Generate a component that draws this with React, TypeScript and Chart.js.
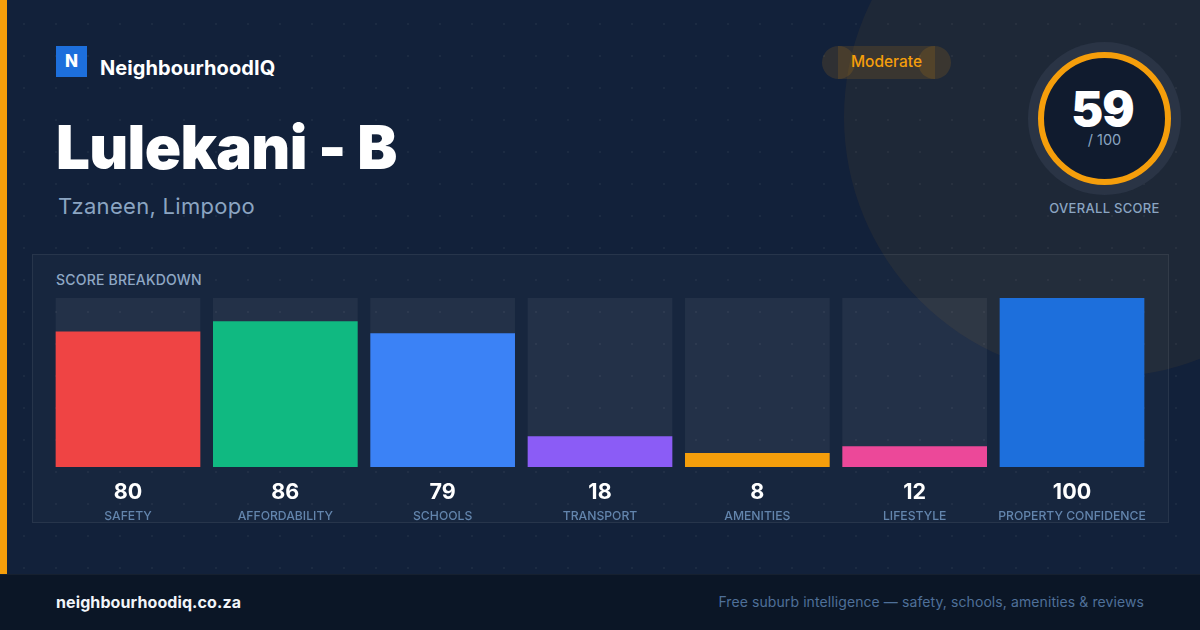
import { useEffect, useRef } from "react";
import { Chart, registerables } from "chart.js";

Chart.register(...registerables);

const categories = ["SAFETY", "AFFORDABILITY", "SCHOOLS", "TRANSPORT", "AMENITIES", "LIFESTYLE", "PROPERTY CONFIDENCE"];
const scores = [80, 86, 79, 18, 8, 12, 100];
const trackValues = [100, 100, 100, 100, 100, 100, 100];
const barColors = ["#ef4444", "#10b981", "#3b82f6", "#8b5cf6", "#f59e0b", "#ec4899", "#1d6fdc"];

const FONT = "Inter, sans-serif";

function text(
  left: number,
  top: number,
  size: number,
  weight: number,
  color: string,
  extra: React.CSSProperties = {},
): React.CSSProperties {
  return {
    position: "absolute",
    left,
    top,
    fontSize: size,
    fontWeight: weight,
    color,
    lineHeight: 1,
    whiteSpace: "nowrap",
    ...extra,
  };
}

function box(left: number, top: number, width: number, height: number, extra: React.CSSProperties): React.CSSProperties {
  return { position: "absolute", left, top, width, height, ...extra };
}

function BreakdownChart() {
  const canvasRef = useRef<HTMLCanvasElement>(null);

  useEffect(() => {
    if (!canvasRef.current) return;
    const chart = new Chart(canvasRef.current, {
      type: "bar",
      data: {
        labels: categories,
        datasets: [
          {
            label: "Score",
            data: scores,
            backgroundColor: barColors,
            barThickness: 144,
            grouped: false,
            order: 1,
          },
          {
            label: "Track",
            data: trackValues,
            backgroundColor: "rgba(255,255,255,0.055)",
            barThickness: 144,
            grouped: false,
            order: 2,
          },
        ],
      },
      options: {
        animation: false,
        responsive: false,
        layout: { padding: { left: 9.33, right: 9.33, top: 0, bottom: 3 } },
        plugins: { legend: { display: false }, tooltip: { enabled: false } },
        scales: {
          y: { display: false, min: 0, max: 100 },
          x: {
            weight: 1,
            grid: { display: false, drawTicks: false },
            border: { display: false },
            // tick padding counts twice in the axis height, names sit right under the values
            afterFit: (scale) => {
              scale.height = 38;
            },
            ticks: {
              autoSkip: false,
              maxRotation: 0,
              padding: 13,
              color: "#ffffff",
              font: { family: FONT, size: 21.5, weight: "bold" },
              callback: (_v, i) => String(scores[i]),
            },
          },
          names: {
            type: "category",
            position: "bottom",
            weight: 2,
            labels: categories,
            grid: { display: false, drawTicks: false },
            border: { display: false },
            ticks: {
              autoSkip: false,
              maxRotation: 0,
              padding: 3.7,
              color: "#6385ad",
              font: { family: FONT, size: 12.2, weight: 500 },
            },
          },
        },
      },
    });
    return () => chart.destroy();
  }, []);

  return <canvas ref={canvasRef} width={1120} height={232} style={box(40, 298, 1120, 232, { display: "block" })} />;
}

export default function App() {
  useEffect(() => {
    document.body.style.margin = "0";
  }, []);

  return (
    <div
      style={{
        position: "fixed",
        left: 0,
        top: 0,
        width: 1200,
        height: 630,
        overflow: "hidden",
        fontFamily: FONT,
        background: "#12213a",
      }}
    >
      {/* dotted background */}
      <div
        style={box(0, 0, 1200, 630, {
          backgroundImage: "radial-gradient(circle, rgba(255,255,255,0.045) 1px, transparent 1px)",
          backgroundSize: "32px 32px",
          backgroundPosition: "8px 8px",
        })}
      />
      <div style={box(844, -143, 520, 520, { borderRadius: "50%", background: "rgba(245,158,11,0.06)" })} />
      <div style={box(0, 0, 7, 574, { background: "#f59e0b" })} />

      {/* header */}
      <div style={box(56, 46, 31, 31, { background: "#1d6fdc" })} />
      <div style={text(56, 53, 17, 800, "#ffffff", { width: 31, textAlign: "center" })}>N</div>
      <div style={text(100, 58, 20, 700, "#ffffff", { letterSpacing: 0.07 })}>NeighbourhoodIQ</div>
      <div style={text(56, 117, 60, 900, "#ffffff", { letterSpacing: -0.65 })}>Lulekani - B</div>
      <div style={text(58, 195, 22, 400, "#8ba5c2", { letterSpacing: 0.3 })}>Tzaneen, Limpopo</div>

      {/* rating pill */}
      <div style={box(822, 46, 33, 33, { borderRadius: "50%", background: "rgba(245,158,11,0.13)" })} />
      <div style={box(918, 46, 33, 33, { borderRadius: "50%", background: "rgba(245,158,11,0.13)" })} />
      <div style={box(838, 46, 97, 33, { background: "rgba(245,158,11,0.13)" })} />
      <div style={text(822, 53.5, 15.5, 500, "#f59e0b", { width: 129, textAlign: "center" })}>Moderate</div>

      {/* overall score */}
      <div style={box(1028, 42, 153, 153, { borderRadius: "50%", background: "#2a3445" })} />
      <div
        style={box(1038, 52, 133, 133, {
          borderRadius: "50%",
          background: "#101b2e",
          border: "6px solid #f59e0b",
          boxSizing: "border-box",
        })}
      />
      <div style={text(1036, 85, 48, 900, "#ffffff", { width: 133, textAlign: "center", letterSpacing: -1 })}>59</div>
      <div style={text(1038, 133, 14.5, 400, "#8ba5c2", { width: 133, textAlign: "center" })}>/ 100</div>
      <div style={text(1028, 201.5, 13, 500, "#8ba5c2", { width: 153, textAlign: "center", letterSpacing: 0.3 })}>
        OVERALL SCORE
      </div>

      {/* breakdown panel */}
      <div
        style={box(32, 254, 1137, 269, {
          boxSizing: "border-box",
          background: "rgba(255,255,255,0.025)",
          border: "1px solid rgba(255,255,255,0.07)",
        })}
      />
      <div style={text(56, 273, 14, 500, "#8fa8c5", { letterSpacing: 0.2 })}>SCORE BREAKDOWN</div>
      <BreakdownChart />

      {/* footer */}
      <div
        style={box(0, 574, 1200, 56, {
          boxSizing: "border-box",
          background: "#0b1626",
          borderTop: "1px solid #16202f",
        })}
      />
      <div style={text(56, 594, 16, 700, "#f1f5f9", { letterSpacing: 0.1 })}>neighbourhoodiq.co.za</div>
      <div style={text(0, 595, 14, 400, "#4f7099", { left: "auto", right: 56, letterSpacing: 0.09 })}>
        Free suburb intelligence — safety, schools, amenities &amp; reviews
      </div>
    </div>
  );
}
